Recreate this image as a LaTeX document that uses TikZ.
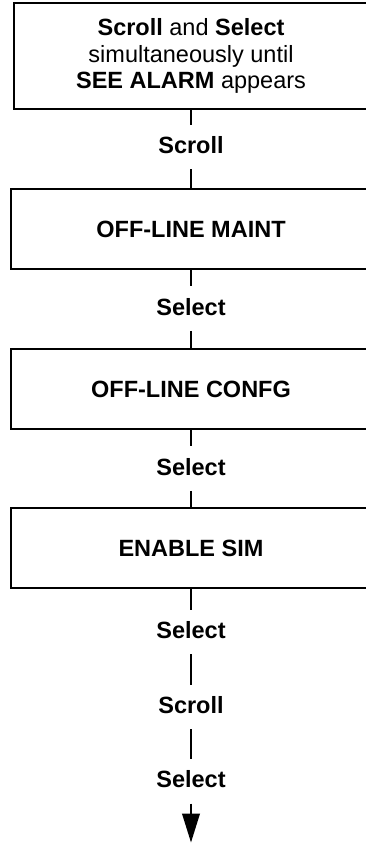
\documentclass[tikz,border=0pt]{standalone}
\usepackage{fontspec}
\setmainfont{Liberation Sans}
\usetikzlibrary{arrows.meta}
\newcommand\flowfont{\fontsize{23.5pt}{26.7pt}\selectfont}
\begin{document}
\begin{tikzpicture}[x=1pt,y=-1pt,
  stepbox/.style={draw, line width=2pt, rectangle, inner sep=0pt,
    minimum width=360pt, minimum height=80pt, font=\flowfont\bfseries},
  keylabel/.style={font=\flowfont\bfseries, anchor=base, inner xsep=0pt,
    inner ysep=11.5pt, text height=17pt, text depth=4pt},
  link/.style={line width=2pt}]
\useasboundingbox (0,0) rectangle (366,843);
\clip (0,0) rectangle (366,843);

% boxes (right edges run just past the page edge)
\node[stepbox, minimum width=354pt, minimum height=106pt, align=center,
  font=\flowfont] (start) at (191,56)
  {\textbf{Scroll} and \textbf{Select}\\ simultaneously until\\ \textbf{SEE ALARM} appears};
\node[stepbox] (maint) at (191,229.3) {OFF-LINE MAINT};
\node[stepbox] (confg) at (191,389) {OFF-LINE CONFG};
\node[stepbox] (sim) at (191,548) {ENABLE SIM};

% key presses between the steps
\node[keylabel] (k1) at (191,153.4) {Scroll};
\node[keylabel] (k2) at (191,315.1) {Select};
\node[keylabel] (k3) at (191,475.1) {Select};
\node[keylabel] (k4) at (191,638.4) {Select};
\node[keylabel] (k5) at (191,713.4) {Scroll};
\node[keylabel] (k6) at (191,787.9) {Select};
\coordinate (exit) at (191,842.5);

% connectors
\draw[link] (start) -- (k1);
\draw[link] (k1) -- (maint);
\draw[link] (maint) -- (k2);
\draw[link] (k2) -- (confg);
\draw[link] (confg) -- (k3);
\draw[link] (k3) -- (sim);
\draw[link] (sim) -- (k4);
\draw[link] (k4) -- (k5);
\draw[link] (k5) -- (k6);
\draw[link, -{Triangle[length=29pt,width=17.6pt]}] (k6) -- (exit);
\end{tikzpicture}
\end{document}
